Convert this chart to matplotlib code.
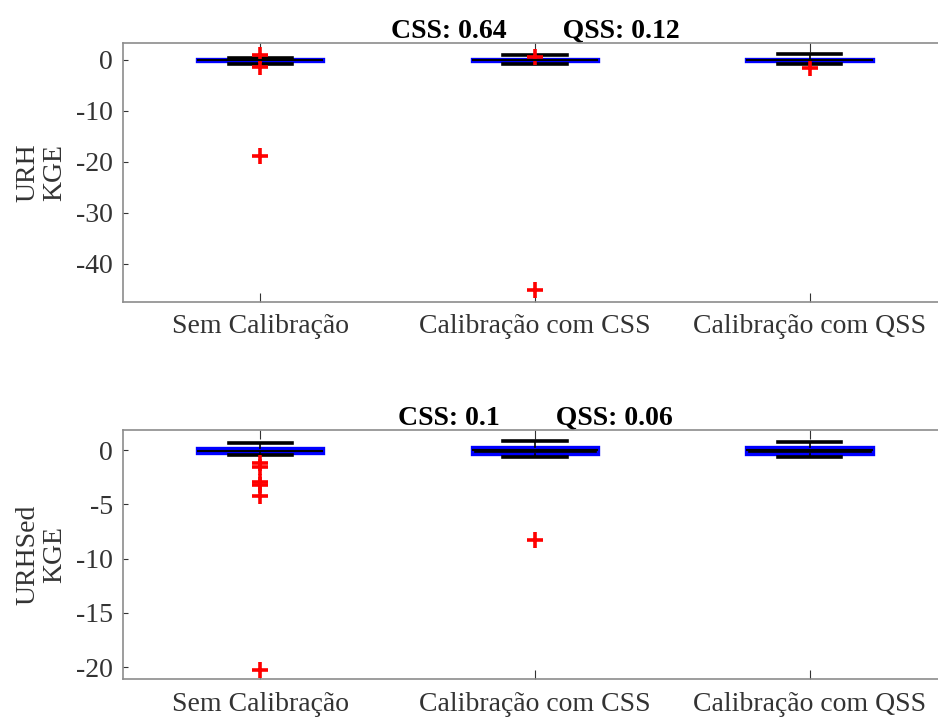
import matplotlib
matplotlib.use("Agg")
import matplotlib.pyplot as plt

plt.rcParams["font.family"] = ["Liberation Serif", "DejaVu Serif"]
plt.rcParams["axes.unicode_minus"] = False

grupos = ["Sem Calibração", "Calibração com CSS", "Calibração com QSS"]

# URH - estatisticas do KGE por grupo
urh_med = [-0.1, 0.0, 0.0]
urh_q1 = [-0.2, -0.15, -0.15]
urh_q3 = [0.1, 0.15, 0.15]
urh_wlo = [-0.8, -0.8, -0.85]
urh_whi = [0.45, 0.9, 1.05]
urh_out = [[0.9, -1.4, -18.8], [0.6, -45.2], [-1.7]]
urh_titulo = "CSS: 0.64        QSS: 0.12"

# URHSed - estatisticas do KGE por grupo
sed_med = [-0.05, 0.0, 0.0]
sed_q1 = [-0.3, -0.4, -0.4]
sed_q3 = [0.15, 0.25, 0.25]
sed_wlo = [-0.45, -0.65, -0.65]
sed_whi = [0.65, 0.85, 0.7]
sed_out = [[-1.2, -1.6, -2.9, -3.2, -4.2, -20.3], [-8.3], []]
sed_titulo = "CSS: 0.1        QSS: 0.06"


def montar_stats(med, q1, q3, wlo, whi, out):
    stats = []
    for i in range(len(med)):
        stats.append({"med": med[i], "q1": q1[i], "q3": q3[i],
                      "whislo": wlo[i], "whishi": whi[i], "fliers": out[i]})
    return stats


def desenhar(ax, stats, titulo, rotulo, ylim, yticks):
    ax.bxp(stats, positions=[1, 2, 3], widths=0.46, capwidths=0.23,
           patch_artist=True, showfliers=True,
           boxprops=dict(facecolor="black", edgecolor="#0000ff", linewidth=2.4),
           medianprops=dict(color="black", linewidth=1.5),
           whiskerprops=dict(color="black", linewidth=1.2),
           capprops=dict(color="black", linewidth=2.6),
           flierprops=dict(marker="+", markeredgecolor="red", markersize=12,
                           markeredgewidth=2.6, linestyle="none"))
    ax.set_xlim(0.5, 3.5)
    ax.set_ylim(*ylim)
    ax.set_yticks(yticks)
    ax.set_xticks([1, 2, 3])
    ax.set_xticklabels(grupos)
    ax.tick_params(axis="x", direction="in", length=6.5, top=True,
                   labelsize=20, pad=9, colors="#333333", width=0.8)
    ax.tick_params(axis="y", direction="in", length=3.6, right=True,
                   labelsize=20, pad=7, colors="#333333", width=0.8)
    for s in ax.spines.values():
        s.set_color("#8c8c8c")
        s.set_linewidth(1.2)
    ax.set_title(titulo, fontsize=20, fontweight="bold", pad=4)
    ax.set_ylabel(rotulo, fontsize=20, color="#333333", linespacing=1.1)
    ax.yaxis.set_label_coords(-0.067, 0.5)


fig = plt.figure(figsize=(9.38, 7.2), dpi=100)
ax1 = fig.add_axes([0.131, 0.5806, 0.8786, 0.3597])
ax2 = fig.add_axes([0.131, 0.0569, 0.8786, 0.3459])

desenhar(ax1, montar_stats(urh_med, urh_q1, urh_q3, urh_wlo, urh_whi, urh_out),
         urh_titulo, "URH\nKGE", (-47.5, 3.3), [0, -10, -20, -30, -40])
desenhar(ax2, montar_stats(sed_med, sed_q1, sed_q3, sed_wlo, sed_whi, sed_out),
         sed_titulo, "URHSed\nKGE", (-21.1, 1.85), [0, -5, -10, -15, -20])

fig.savefig("out.png", dpi=100)
